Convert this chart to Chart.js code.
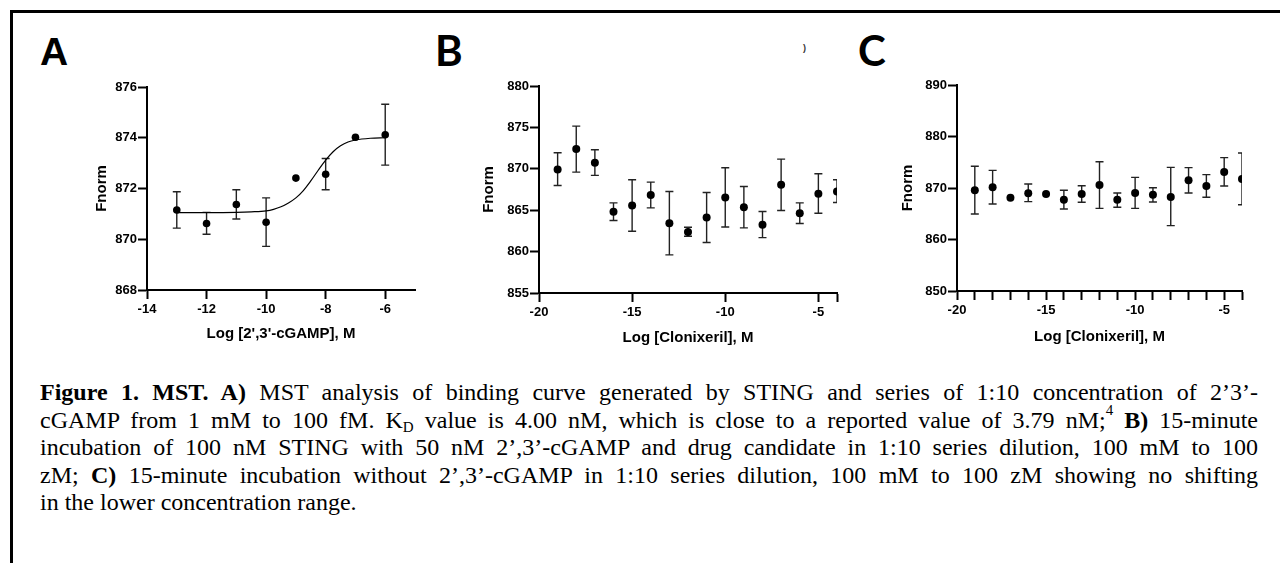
<!DOCTYPE html>
<html><head><meta charset="utf-8">
<script src="https://cdn.jsdelivr.net/npm/chart.js@4.4.1/dist/chart.umd.min.js"></script>
<style>
html,body{margin:0;padding:0;background:#fff;width:1280px;height:563px;overflow:hidden;position:relative}
.frameTop{position:absolute;left:10px;top:10px;width:1270px;height:3px;background:#000}
.frameLeft{position:absolute;left:10px;top:10px;width:3px;height:553px;background:#000}
.panel{position:absolute}
.letter{position:absolute;font-weight:bold;color:#000;line-height:1}
.caption{position:absolute;left:40px;top:379px;width:1218px;font-family:"Liberation Serif","Times New Roman",serif;font-size:24px;line-height:27.6px;color:#000}
.caption div{white-space:nowrap;text-align:justify;text-align-last:justify}
.caption div.last{text-align-last:left}
.caption sub{font-size:15px;vertical-align:-4px;line-height:0}
.caption sup{font-size:15px;vertical-align:13px;line-height:0}
</style></head>
<body>
<div class="frameTop"></div><div class="frameLeft"></div>
<div class="letter" style="left:40px;top:32px;font-family:'Liberation Sans',Arial,sans-serif;font-size:39px">A</div>
<div class="letter" style="left:435px;top:29px;font-family:Lato,'Open Sans',sans-serif;font-size:42px">B</div>
<div class="letter" style="left:858px;top:29px;font-family:Lato,'Open Sans',sans-serif;font-size:42px">C</div>
<div style="position:absolute;left:803px;top:43px;font:bold 9px 'Liberation Sans',Arial;color:#333">)</div>
<div class="panel" style="left:60px;top:60px"><canvas id="cA" width="380" height="300"></canvas></div>
<div class="panel" style="left:460px;top:60px"><canvas id="cB" width="400" height="300"></canvas></div>
<div class="panel" style="left:880px;top:60px"><canvas id="cC" width="390" height="300"></canvas></div>
<div class="caption">
<div><b>Figure 1. MST. A)</b> MST analysis of binding curve generated by STING and series of 1:10 concentration of 2’3’-</div>
<div>cGAMP from 1 mM to 100 fM. K<sub>D</sub> value is 4.00 nM, which is close to a reported value of 3.79 nM;<sup>4</sup> <b>B)</b> 15-minute</div>
<div>incubation of 100 nM STING with 50 nM 2’,3’-cGAMP and drug candidate in 1:10 series dilution, 100 mM to 100</div>
<div>zM; <b>C)</b> 15-minute incubation without 2’,3’-cGAMP in 1:10 series dilution, 100 mM to 100 zM showing no shifting</div>
<div class="last">in the lower concentration range.</div>
</div>
<script>
// ---- Panel A data ----
const logA = [-13, -12, -11, -10, -9, -8, -7, -6];
const fnormA = [871.15, 870.62, 871.37, 870.67, 872.41, 872.56, 874.02, 874.12];
const errLowA = [870.44, 870.20, 870.80, 869.72, null, 871.95, null, 872.92];
const errHighA = [871.87, 871.06, 871.95, 871.63, null, 873.18, null, 875.32];
const fitLogA = [-13, -12, -11, -10.5, -10, -9.75, -9.5, -9.25, -9, -8.75, -8.5, -8.25, -8, -7.75, -7.5, -7.25, -7, -6.5, -6];
const fitFnormA = [871.05, 871.05, 871.06, 871.08, 871.12, 871.18, 871.28, 871.43, 871.63, 871.92, 872.30, 872.72, 873.12, 873.45, 873.68, 873.83, 873.91, 873.98, 874.00];
const xTicksA = [-14, -12, -10, -8, -6];
const yTicksA = [868, 870, 872, 874, 876];

// ---- Panel B data ----
const logB = [-19, -18, -17, -16, -15, -14, -13, -12, -11, -10, -9, -8, -7, -6, -5, -4];
const fnormB = [869.92, 872.38, 870.73, 864.80, 865.56, 866.85, 863.43, 862.38, 864.11, 866.53, 865.36, 863.23, 868.06, 864.64, 866.98, 867.26];
const errLowB = [867.98, 869.60, 869.20, 863.75, 862.46, 865.28, 859.60, 861.85, 861.09, 862.98, 862.86, 861.69, 864.96, 863.39, 864.64, 865.93];
const errHighB = [871.94, 875.16, 872.30, 865.89, 868.67, 868.39, 867.26, 862.94, 867.14, 870.12, 867.86, 864.84, 871.17, 865.89, 869.40, 868.67];
const xTicksB = [-20, -15, -10, -5, -4];
const yTicksB = [855, 860, 865, 870, 875, 880];

// ---- Panel C data ----
const logC = [-19, -18, -17, -16, -15, -14, -13, -12, -11, -10, -9, -8, -7, -6, -5, -4];
const fnormC = [869.55, 870.13, 868.12, 868.96, 868.83, 867.73, 868.83, 870.58, 867.73, 869.03, 868.71, 868.25, 871.49, 870.39, 873.11, 871.75];
const errLowC = [864.95, 866.89, null, 867.35, null, 865.92, 867.22, 866.05, 866.25, 866.05, 867.28, 862.69, 869.03, 868.19, 870.39, 866.76];
const errHighC = [874.21, 873.43, null, 870.78, null, 869.55, 870.45, 875.11, 869.03, 872.07, 870.06, 874.01, 873.95, 872.59, 875.89, 876.80];
const xTicksC = [-20, -19, -18, -17, -16, -15, -14, -13, -12, -11, -10, -9, -8, -7, -6, -5, -4];
const yTicksC = [850, 860, 870, 880, 890];

const xLabelStep5 = [-20, -15, -10, -5];

Chart.defaults.font.family = "'Liberation Sans', Arial, sans-serif";
Chart.defaults.color = '#000';

const errorBars = {
  id: 'errorBars',
  beforeDatasetsDraw(chart) {
    const {ctx, chartArea, scales} = chart;
    const ds = chart.data.datasets.find(d => d.errLow);
    if (!ds) return;
    ctx.save();
    ctx.beginPath();
    ctx.rect(chartArea.left, chartArea.top - 30, chartArea.right - chartArea.left, chartArea.bottom - chartArea.top + 60);
    ctx.clip();
    ctx.strokeStyle = '#222';
    ctx.lineWidth = 1.4;
    ds.data.forEach((p, i) => {
      const lo = ds.errLow[i], hi = ds.errHigh[i];
      if (lo == null || hi == null) return;
      const px = scales.x.getPixelForValue(p.x);
      const y1 = scales.y.getPixelForValue(lo), y2 = scales.y.getPixelForValue(hi);
      ctx.beginPath();
      ctx.moveTo(px, y1); ctx.lineTo(px, y2);
      ctx.moveTo(px - 4, y1); ctx.lineTo(px + 4, y1);
      ctx.moveTo(px - 4, y2); ctx.lineTo(px + 4, y2);
      ctx.stroke();
    });
    ctx.restore();
  }
};

function makePanel(id, o) {
  const pts = o.x.map((v, i) => ({x: v, y: o.y[i]}));
  const datasets = [{
    type: 'scatter', data: pts, errLow: o.lo, errHigh: o.hi,
    pointRadius: o.r, pointBackgroundColor: '#000', pointBorderWidth: 0, borderColor: '#000',
    clip: 0, order: 0
  }];
  if (o.fitX) {
    datasets.push({
      type: 'line', data: o.fitX.map((v, i) => ({x: v, y: o.fitY[i]})),
      borderColor: '#000', borderWidth: 1.2, pointRadius: 0, fill: false,
      cubicInterpolationMode: 'monotone', order: 1
    });
  }
  const gridCfg = {display: true, drawOnChartArea: false, drawTicks: true, tickLength: 9, tickColor: '#000', tickWidth: 2, color: '#000'};
  new Chart(document.getElementById(id), {
    data: {datasets},
    plugins: [errorBars],
    options: {
      responsive: false, animation: false, devicePixelRatio: 1,
      layout: {padding: {left: 0, top: o.padTop, right: o.padRight, bottom: 0}},
      plugins: {legend: {display: false}, tooltip: {enabled: false}},
      scales: {
        x: {
          type: 'linear', position: 'bottom', min: o.xMin, max: o.xMax,
          afterBuildTicks: s => { s.ticks = o.xTicks.map(v => ({value: v})); },
          afterFit: s => { s.height = o.hx; },
          grid: gridCfg,
          border: {display: true, color: '#000', width: 2},
          ticks: {autoSkip: false, maxRotation: 0, padding: 3, color: '#000', font: {size: 13, weight: 'bold'},
            callback: v => o.xLabels.includes(v) ? String(v) : ''},
          title: {display: true, text: o.xTitle, color: '#000', font: {size: 15, weight: 'bold'}, padding: {top: 0, bottom: o.xTitlePad}}
        },
        y: {
          type: 'linear', position: 'left', min: o.yMin, max: o.yMax,
          afterBuildTicks: s => { s.ticks = o.yTicks.map(v => ({value: v})); },
          afterFit: s => { s.width = o.wy; },
          grid: gridCfg,
          border: {display: true, color: '#000', width: 2},
          ticks: {padding: 1, color: '#000', font: {size: 13, weight: 'bold'}, callback: v => String(v)},
          title: {display: true, text: 'Fnorm', color: '#000', font: {size: 15, weight: 'bold'}, padding: {top: o.yTitlePad, bottom: 0}}
        }
      }
    }
  });
}

makePanel('cA', {x: logA, y: fnormA, lo: errLowA, hi: errHighA, fitX: fitLogA, fitY: fitFnormA, r: 3.8,
  xMin: -14, xMax: -5, yMin: 868, yMax: 876, xTicks: xTicksA, xLabels: xTicksA, yTicks: yTicksA,
  xTitle: "Log [2',3'-cGAMP], M", wy: 87, hx: 70, padTop: 27, padRight: 25, yTitlePad: 32.5, xTitlePad: 17});
makePanel('cB', {x: logB, y: fnormB, lo: errLowB, hi: errHighB, r: 4,
  xMin: -20, xMax: -4, yMin: 855, yMax: 880, xTicks: xTicksB, xLabels: xLabelStep5, yTicks: yTicksB,
  xTitle: 'Log [Clonixeril], M', wy: 79, hx: 67, padTop: 26, padRight: 23, yTitlePad: 20, xTitlePad: 13});
makePanel('cC', {x: logC, y: fnormC, lo: errLowC, hi: errHighC, r: 4,
  xMin: -20, xMax: -4, yMin: 850, yMax: 890, xTicks: xTicksC, xLabels: xLabelStep5, yTicks: yTicksC,
  xTitle: 'Log [Clonixeril], M', wy: 77, hx: 69, padTop: 25, padRight: 28, yTitlePad: 18.5, xTitlePad: 14});
</script>
</body></html>
